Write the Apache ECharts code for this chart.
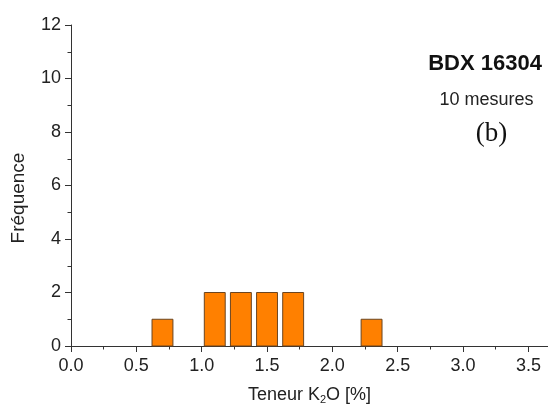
<!DOCTYPE html>
<html>
<head>
<meta charset="utf-8">
<script src="https://cdn.jsdelivr.net/npm/echarts@6/dist/echarts.min.js"></script>
<style>
html,body{margin:0;padding:0;background:#fff;}
#chart{width:548px;height:410px;}
</style>
</head>
<body>
<div id="chart"></div>
<script>
// Histogram data: bin centres (K2O %), counts
const binCenters = [0.7, 1.1, 1.3, 1.5, 1.7, 2.3];
const counts = [1, 2, 2, 2, 2, 1];
const binWidth = 0.2;
const xTickValues = [0.0, 0.5, 1.0, 1.5, 2.0, 2.5, 3.0, 3.5];
const xMinorTickValues = [0.25, 0.75, 1.25, 1.75, 2.25, 2.75, 3.25];
const yTickLabels = [0, 2, 4, 6, 8, 10, 12];
const yAxisTitle = 'Fréquence';
const sampleName = 'BDX 16304';
const sampleInfo = '10 mesures';
const panelLabel = '(b)';

const FONT = '"Liberation Sans", Arial, sans-serif';
const TXT = '#222';
const AX = '#333';

const chart = echarts.init(document.getElementById('chart'), null, {renderer: 'canvas'});

const barData = binCenters.map((c, i) => [c, counts[i]]);

chart.setOption({
  animation: false,
  backgroundColor: '#fff',
  grid: {left: 71, right: 0, top: 25, bottom: 63, containLabel: false},
  xAxis: [{
    type: 'value', min: 0, max: 3.65,
    axisLine: {show: true, onZero: false, lineStyle: {color: AX, width: 1}},
    axisTick: {show: true, inside: false, length: 6, lineStyle: {color: AX}, customValues: xTickValues},
    axisLabel: {show: true, color: TXT, fontSize: 18, fontFamily: FONT, margin: 11,
      customValues: xTickValues, formatter: v => Number(v).toFixed(1)},
    splitLine: {show: false},
    name: 'Teneur K{sub|2}O [%]', nameLocation: 'middle', nameGap: 39,
    nameTextStyle: {color: TXT, fontSize: 18, fontFamily: FONT,
      rich: {sub: {fontSize: 11, fontFamily: FONT, color: TXT, padding: [9, 0, 0, 0]}}}
  }, {
    type: 'value', min: 0, max: 3.65, position: 'bottom',
    axisLine: {show: false},
    axisTick: {show: true, inside: false, length: 3.5, lineStyle: {color: AX}, customValues: xMinorTickValues},
    axisLabel: {show: false},
    splitLine: {show: false}
  }],
  yAxis: {
    type: 'value', min: 0, max: 12, interval: 2,
    axisLine: {show: true, lineStyle: {color: AX, width: 1}},
    axisTick: {show: true, inside: false, length: 6, lineStyle: {color: AX}},
    minorTick: {show: true, splitNumber: 2, length: 3.5, lineStyle: {color: AX}},
    axisLabel: {show: true, color: TXT, fontSize: 18, fontFamily: FONT, margin: 10,
      formatter: v => yTickLabels.includes(v) ? String(v) : ''},
    splitLine: {show: false}
  },
  series: [{
    type: 'custom',
    xAxisIndex: 0,
    data: barData,
    renderItem: function (params, api) {
      const c = api.value(0), n = api.value(1);
      const half = binWidth * 0.8 / 2;
      const p0 = api.coord([c - half, n]);
      const p1 = api.coord([c + half, 0]);
      return {
        type: 'rect',
        shape: {x: p0[0], y: p0[1], width: p1[0] - p0[0], height: p1[1] - p0[1]},
        style: {fill: '#FF8000', stroke: '#6b4520', lineWidth: 1}
      };
    }
  }],
  graphic: [
    {type: 'text', x: 19, y: 198, rotation: Math.PI / 2, style: {text: yAxisTitle, font: '19px ' + FONT, fill: TXT, align: 'center', verticalAlign: 'middle'}},
    {type: 'text', x: 485, y: 64, style: {text: sampleName, font: 'bold 22px ' + FONT, fill: '#111', align: 'center', verticalAlign: 'middle'}},
    {type: 'text', x: 486.5, y: 100.5, style: {text: sampleInfo, font: '18px ' + FONT, fill: '#222', align: 'center', verticalAlign: 'middle'}},
    {type: 'text', x: 491.5, y: 134, style: {text: panelLabel, font: '27px "Liberation Serif", "DejaVu Serif", serif', fill: '#111', align: 'center', verticalAlign: 'middle'}}
  ]
});
</script>
</body>
</html>
